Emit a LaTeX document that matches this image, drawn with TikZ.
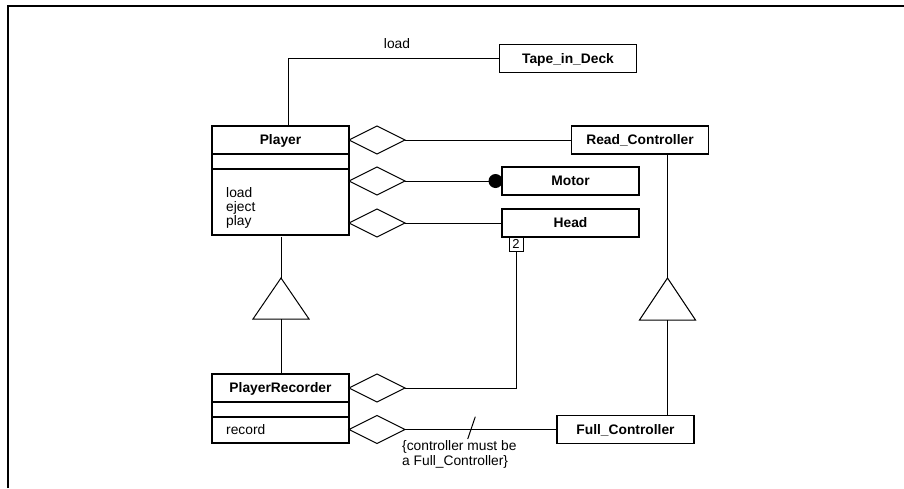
\documentclass[tikz,border=0pt]{standalone}
\usepackage{fontspec}
\setmainfont{Liberation Sans}
\usetikzlibrary{shapes.geometric}

\begin{document}
\begin{tikzpicture}[x=1pt,y=-1pt,
  every node/.style={font=\fontsize{13.8}{15}\selectfont},
  line/.style={line width=1pt},
  classbox/.style={draw, line width=1.1pt, minimum width=137pt, minimum height=28pt,
    inner sep=0pt, outer sep=0pt, text height=9.9pt, text depth=0pt,
    font=\fontsize{13.8}{15}\selectfont\bfseries},
  compbox/.style={draw, line width=1.1pt, minimum width=137pt, inner sep=0pt, outer sep=0pt},
  agg/.style={draw, diamond, line width=1pt, minimum width=56pt, minimum height=28pt,
    inner sep=0pt, outer sep=0pt, fill=white},
  optext/.style={anchor=north west, align=left, inner sep=0pt,
    font=\fontsize{13.8}{14.2}\selectfont},
  mult/.style={draw, line width=0.8pt, minimum size=14pt, inner sep=0pt, outer sep=0pt,
    font=\fontsize{13}{14}\selectfont},
  endball/.style={circle, fill=black, minimum size=14pt, inner sep=0pt, outer sep=0pt},
  gentri/.style={line width=1pt, fill=white, line join=miter}
]
\useasboundingbox (0,0) rectangle (904,488);
\fill[white] (0,0) rectangle (904,488);

% page frame (top and left edges)
\draw[line width=1.6pt] (8,488) -- (8,6) -- (904,6);

% Player class
\node[classbox] (player) at (280.5,140) {Player};
\node[compbox, minimum height=15pt, anchor=north] (playerattr) at (player.south) {};
\node[compbox, minimum height=66pt, anchor=north] (playerops) at (playerattr.south) {};
\node[optext] (playeroptext) at (226,187) {load\\eject\\play};

% PlayerRecorder class
\node[classbox] (prec) at (280.5,388) {PlayerRecorder};
\node[compbox, minimum height=15pt, anchor=north] (precattr) at (prec.south) {};
\node[compbox, minimum height=26pt, anchor=north] (precops) at (precattr.south) {};
\node[anchor=west, inner sep=0pt] (precoptext) at (226,429.5) {record};

% other classes
\node[classbox] (tape)  at (568,58.5)    {Tape\_in\_Deck};
\node[classbox] (read)  at (640,140)     {Read\_Controller};
\node[classbox] (motor) at (570.5,181)   {Motor};
\node[classbox] (head)  at (570.5,223)   {Head};
\node[classbox] (full)  at (625.5,429.5) {Full\_Controller};

% association Player -- Tape_in_Deck
\draw[line] ([xshift=7.5pt]player.north) |- (tape.west);
\node (loadlbl) at (397,44) {load};

% aggregations of Player
\node[agg, anchor=west] (aggread)  at (player.east) {};
\node[agg, anchor=west] (aggmotor) at (playerops.east |- motor.west) {};
\node[agg, anchor=west] (agghead)  at (playerops.east |- head.west) {};
\draw[line] (aggread.east) -- (read.west);
\node[endball, anchor=east] (motorball) at ([xshift=0.5pt]motor.west) {};
\draw[line] (aggmotor.east) -- (motorball.west);
\draw[line] (agghead.east) -- (head.west);

% aggregations of PlayerRecorder
\node[agg, anchor=west] (aggprhead) at (prec.east) {};
\node[agg, anchor=west] (aggprfull) at (precops.east |- full.west) {};
\node[mult, anchor=north west] (headmult) at ([xshift=7pt]head.south west) {2};
\draw[line] (headmult.south) |- (aggprhead.east);
\draw[line] (aggprfull.east) -- (full.west);

% constraint on the controller link
\coordinate (slashlow)  at (467.7,439);
\coordinate (slashhigh) at (475.3,416.7);
\draw[line] (slashlow) -- (slashhigh);
\node[anchor=north west, align=left, inner sep=0pt] (constraint) at (402,440)
  {\{controller must be\\a Full\_Controller\}};

% generalization PlayerRecorder -> Player
\coordinate (genltip)  at (281,278);
\coordinate (genlbase) at (281,319);
\draw[line, shorten <=2pt] (playerops.south -| genltip) -- (genltip);
\draw[gentri] (genltip) -- ++(28,41) -- ++(-56,0) -- cycle;
\draw[line] (genlbase) -- (prec.north -| genlbase);

% generalization Full_Controller -> Read_Controller
\coordinate (genrtip)  at (667.5,278);
\coordinate (genrbase) at (667.5,320);
\draw[line] (read.south -| genrtip) -- (genrtip);
\draw[gentri] (genrtip) -- ++(28,42) -- ++(-56,0) -- cycle;
\draw[line] (genrbase) -- (full.north -| genrbase);
\end{tikzpicture}
\end{document}
